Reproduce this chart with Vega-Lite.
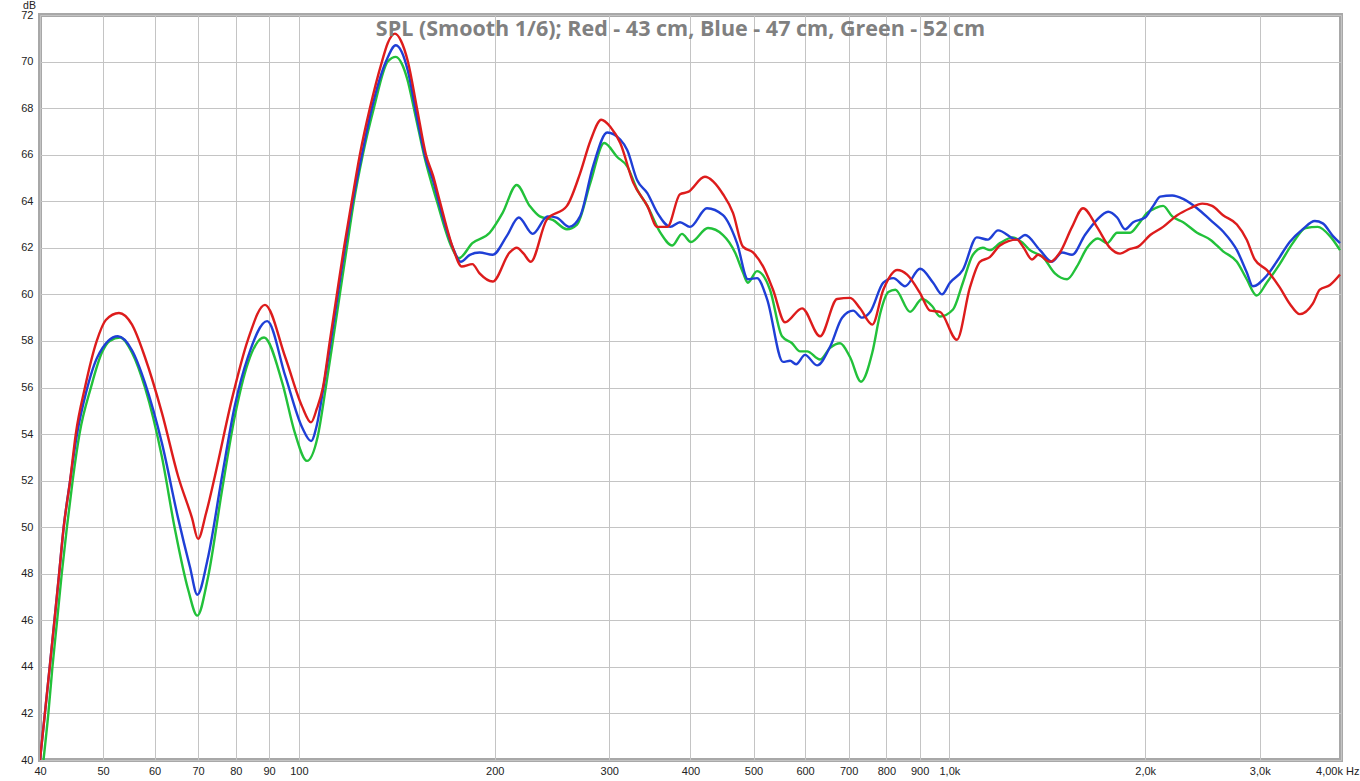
{
  "$schema": "https://vega.github.io/schema/vega-lite/v6.json",
  "width": 1301,
  "height": 745,
  "autosize": {"type": "none"},
  "padding": {"left": 40, "top": 15, "right": 19, "bottom": 21},
  "background": "white",
  "config": {
    "view": {"stroke": "#a8a8a8", "strokeWidth": 4},
    "axis": {"labelFont": "Liberation Sans", "labelFontSize": 11, "labelColor": "#222222", "gridColor": "#c4c4c4", "gridWidth": 1, "ticks": false, "domain": false, "labelFlush": false, "labelOverlap": false}
  },
  "title": {
    "text": "SPL (Smooth 1/6); Red - 43 cm, Blue - 47 cm, Green - 52 cm",
    "font": "Open Sans",
    "fontSize": 21.5,
    "fontWeight": "bold",
    "color": "#808080",
    "anchor": "middle",
    "baseline": "alphabetic",
    "offset": -20,
    "dx": -10,
    "dy": 37
  },
  "datasets": {
    "red": [
      {"f":40.0,"db":40},{"f":40.7,"db":42},{"f":41.4,"db":44},{"f":42.1,"db":46},{"f":42.8,"db":48},{"f":43.5,"db":50},{"f":44.5,"db":52},{"f":45.4,"db":54},{"f":46.9,"db":56},{"f":48.9,"db":58},{"f":50.5,"db":58.9},{"f":52.9,"db":59.2},{"f":55.4,"db":58.7},{"f":58.0,"db":57.3},{"f":61.6,"db":54.9},{"f":65.2,"db":52.2},{"f":68.5,"db":50.4},{"f":70.0,"db":49.5},{"f":72.0,"db":50.6},{"f":74.3,"db":52.2},{"f":78.9,"db":55.5},{"f":83.5,"db":58.05},{"f":88.7,"db":59.55},{"f":95.3,"db":57.3},{"f":101.1,"db":55.2},{"f":104.4,"db":54.5},{"f":106.6,"db":55.1},{"f":108.9,"db":56.0},{"f":111.6,"db":58.0},{"f":114.4,"db":60.0},{"f":117.3,"db":62.0},{"f":120.6,"db":64.0},{"f":124.1,"db":66.0},{"f":128.6,"db":68.0},{"f":134.2,"db":70.0},{"f":137.0,"db":70.8},{"f":140.5,"db":71.2},{"f":143.5,"db":70.9},{"f":147.1,"db":70.0},{"f":151.9,"db":68.0},{"f":156.8,"db":66.0},{"f":160.8,"db":65.1},{"f":164.7,"db":64.0},{"f":172.5,"db":62.0},{"f":178.0,"db":61.2},{"f":184.8,"db":61.3},{"f":189.6,"db":60.9},{"f":198.6,"db":60.55},{"f":210.9,"db":61.8},{"f":216.2,"db":62.0},{"f":221.6,"db":61.75},{"f":227.2,"db":61.4},{"f":240.4,"db":63.2},{"f":258.3,"db":63.8},{"f":270.6,"db":65.2},{"f":280.7,"db":66.6},{"f":291.7,"db":67.5},{"f":301.1,"db":67.2},{"f":311.9,"db":66.5},{"f":326.6,"db":64.8},{"f":343.3,"db":63.8},{"f":355.7,"db":62.9},{"f":368.5,"db":62.9},{"f":385.4,"db":64.3},{"f":396.5,"db":64.4},{"f":420.9,"db":65.05},{"f":448.8,"db":64.3},{"f":464.9,"db":63.5},{"f":481.5,"db":62.05},{"f":499,"db":61.8},{"f":517.1,"db":61.2},{"f":535.7,"db":60.2},{"f":559.0,"db":58.8},{"f":593.7,"db":59.4},{"f":632.7,"db":58.2},{"f":672.0,"db":59.8},{"f":703.7,"db":59.85},{"f":728.9,"db":59.4},{"f":761.3,"db":58.7},{"f":791.5,"db":60.2},{"f":831.7,"db":61.05},{"f":861.1,"db":60.85},{"f":901.6,"db":60.05},{"f":934.0,"db":59.3},{"f":967.2,"db":59.25},{"f":1027,"db":58.05},{"f":1075.6,"db":60.3},{"f":1114,"db":61.4},{"f":1154,"db":61.6},{"f":1196,"db":62.1},{"f":1270,"db":62.35},{"f":1298,"db":62.05},{"f":1340,"db":61.5},{"f":1369,"db":61.7},{"f":1428,"db":61.4},{"f":1479,"db":61.8},{"f":1544,"db":62.9},{"f":1605,"db":63.7},{"f":1686,"db":62.9},{"f":1766,"db":62.0},{"f":1830,"db":61.75},{"f":1896,"db":61.95},{"f":1951,"db":62.05},{"f":2036,"db":62.55},{"f":2131,"db":62.9},{"f":2240,"db":63.4},{"f":2346,"db":63.7},{"f":2448,"db":63.9},{"f":2535,"db":63.8},{"f":2635,"db":63.4},{"f":2767,"db":63.0},{"f":2865,"db":62.35},{"f":2947,"db":61.5},{"f":3075,"db":61.05},{"f":3220,"db":60.3},{"f":3336,"db":59.6},{"f":3457,"db":59.15},{"f":3620,"db":59.6},{"f":3711,"db":60.2},{"f":3847,"db":60.4},{"f":3986,"db":60.85}
    ],
    "blue": [
      {"f":40.0,"db":40},{"f":40.7,"db":42},{"f":41.4,"db":44},{"f":42.1,"db":46},{"f":42.8,"db":48},{"f":43.5,"db":50},{"f":44.5,"db":52},{"f":45.6,"db":54},{"f":47.1,"db":55.8},{"f":49.0,"db":57.3},{"f":52.7,"db":58.2},{"f":55.4,"db":57.6},{"f":58.0,"db":56.2},{"f":61.6,"db":53.6},{"f":65.2,"db":50.4},{"f":68.0,"db":48.3},{"f":69.8,"db":47.1},{"f":72.5,"db":48.7},{"f":76.2,"db":52.2},{"f":79.7,"db":55.2},{"f":83.5,"db":57.3},{"f":89.4,"db":58.85},{"f":95.3,"db":56.5},{"f":101.1,"db":54.3},{"f":104.4,"db":53.7},{"f":106.6,"db":54.4},{"f":109.1,"db":56.0},{"f":112.0,"db":58.0},{"f":114.8,"db":60.0},{"f":117.7,"db":62.0},{"f":121.0,"db":64.0},{"f":125.0,"db":66.0},{"f":129.5,"db":68.0},{"f":136.1,"db":70.0},{"f":141.0,"db":70.7},{"f":144.0,"db":70.4},{"f":147.1,"db":69.6},{"f":151.9,"db":67.6},{"f":156.8,"db":65.8},{"f":160.8,"db":64.9},{"f":164.7,"db":63.8},{"f":172.5,"db":62.0},{"f":177.4,"db":61.4},{"f":183.2,"db":61.7},{"f":189.6,"db":61.8},{"f":198.6,"db":61.7},{"f":208.7,"db":62.5},{"f":217.8,"db":63.3},{"f":228.8,"db":62.6},{"f":241.3,"db":63.35},{"f":249.0,"db":63.3},{"f":260.3,"db":62.9},{"f":270.6,"db":63.35},{"f":283.3,"db":65.5},{"f":297.9,"db":66.95},{"f":311.9,"db":66.65},{"f":319.7,"db":66.2},{"f":331.2,"db":64.9},{"f":343.3,"db":64.35},{"f":355.7,"db":63.5},{"f":372.4,"db":62.9},{"f":385.4,"db":63.1},{"f":399.3,"db":62.9},{"f":424.0,"db":63.7},{"f":448.8,"db":63.4},{"f":471.6,"db":62.2},{"f":490.1,"db":60.65},{"f":506.2,"db":60.7},{"f":524.5,"db":59.8},{"f":555.0,"db":57.1},{"f":569.0,"db":57.15},{"f":581.2,"db":57.0},{"f":600,"db":57.4},{"f":626.0,"db":56.95},{"f":655.6,"db":57.75},{"f":684.1,"db":59.0},{"f":711.3,"db":59.3},{"f":734.3,"db":59.0},{"f":755.9,"db":59.25},{"f":791.5,"db":60.5},{"f":820.1,"db":60.7},{"f":854.9,"db":60.35},{"f":901.6,"db":61.1},{"f":944.1,"db":60.5},{"f":974.1,"db":60.0},{"f":1002,"db":60.5},{"f":1049,"db":61.05},{"f":1102,"db":62.45},{"f":1146,"db":62.35},{"f":1188,"db":62.75},{"f":1270,"db":62.35},{"f":1307,"db":62.55},{"f":1378,"db":61.9},{"f":1438,"db":61.4},{"f":1490,"db":61.8},{"f":1544,"db":61.7},{"f":1616,"db":62.55},{"f":1686,"db":63.2},{"f":1754,"db":63.55},{"f":1811,"db":63.3},{"f":1863,"db":62.8},{"f":1917,"db":63.1},{"f":2000,"db":63.3},{"f":2058,"db":63.8},{"f":2109,"db":64.2},{"f":2201,"db":64.25},{"f":2288,"db":64.1},{"f":2403,"db":63.7},{"f":2518,"db":63.2},{"f":2635,"db":62.7},{"f":2767,"db":61.9},{"f":2865,"db":60.95},{"f":2927,"db":60.35},{"f":3075,"db":60.8},{"f":3185,"db":61.4},{"f":3336,"db":62.25},{"f":3494,"db":62.8},{"f":3646,"db":63.15},{"f":3750,"db":63.05},{"f":3888,"db":62.5},{"f":3986,"db":62.2}
    ],
    "green": [
      {"f":40.5,"db":40},{"f":41.2,"db":42},{"f":41.8,"db":44},{"f":42.5,"db":46},{"f":43.2,"db":48},{"f":44.0,"db":50},{"f":44.9,"db":52},{"f":46.0,"db":54},{"f":47.9,"db":56},{"f":49.8,"db":57.5},{"f":51.2,"db":58.0},{"f":53.1,"db":58.15},{"f":55.4,"db":57.5},{"f":58.0,"db":56.0},{"f":61.6,"db":53.0},{"f":64.5,"db":49.9},{"f":67.6,"db":47.3},{"f":69.8,"db":46.2},{"f":72.5,"db":47.85},{"f":76.2,"db":51.6},{"f":79.7,"db":54.75},{"f":83.5,"db":57.05},{"f":88.4,"db":58.15},{"f":94.3,"db":56.2},{"f":98.6,"db":54.05},{"f":102.9,"db":52.85},{"f":106.9,"db":53.9},{"f":110.0,"db":56.0},{"f":112.8,"db":58.0},{"f":115.6,"db":60.0},{"f":118.5,"db":62.0},{"f":121.5,"db":64.0},{"f":125.4,"db":66.0},{"f":130.4,"db":68.0},{"f":137.0,"db":70.0},{"f":141.0,"db":70.2},{"f":144.0,"db":69.9},{"f":146.6,"db":69.3},{"f":151.3,"db":67.6},{"f":155.7,"db":66.0},{"f":163.0,"db":64.0},{"f":171.9,"db":62.0},{"f":176.2,"db":61.55},{"f":184.8,"db":62.2},{"f":196.5,"db":62.65},{"f":205.7,"db":63.5},{"f":216.2,"db":64.7},{"f":226.4,"db":63.8},{"f":234.6,"db":63.35},{"f":245.6,"db":63.2},{"f":258.3,"db":62.8},{"f":267.7,"db":63.0},{"f":280.7,"db":64.8},{"f":294.7,"db":66.5},{"f":308.6,"db":65.9},{"f":319.7,"db":65.5},{"f":331.2,"db":64.5},{"f":343.3,"db":63.8},{"f":359.5,"db":62.65},{"f":375.1,"db":62.1},{"f":388.1,"db":62.6},{"f":400.7,"db":62.25},{"f":425.5,"db":62.85},{"f":448.8,"db":62.55},{"f":468.3,"db":61.8},{"f":481.5,"db":60.95},{"f":490.1,"db":60.5},{"f":506.2,"db":61.0},{"f":530.0,"db":60.2},{"f":553.0,"db":58.2},{"f":573.0,"db":57.9},{"f":589.5,"db":57.55},{"f":604.3,"db":57.55},{"f":632.7,"db":57.2},{"f":655.6,"db":57.7},{"f":679.2,"db":57.9},{"f":703.7,"db":57.3},{"f":731.5,"db":56.25},{"f":761.3,"db":57.5},{"f":783.2,"db":59.2},{"f":805.7,"db":60.1},{"f":826.0,"db":60.2},{"f":870.1,"db":59.25},{"f":908.0,"db":59.8},{"f":940.7,"db":59.5},{"f":967.2,"db":59.05},{"f":1013,"db":59.35},{"f":1049,"db":60.5},{"f":1087,"db":61.7},{"f":1126,"db":62.0},{"f":1154,"db":61.9},{"f":1196,"db":62.2},{"f":1252,"db":62.45},{"f":1298,"db":62.2},{"f":1330,"db":61.9},{"f":1393,"db":61.6},{"f":1453,"db":60.9},{"f":1517,"db":60.65},{"f":1571,"db":61.2},{"f":1628,"db":62.0},{"f":1692,"db":62.4},{"f":1748,"db":62.2},{"f":1811,"db":62.65},{"f":1896,"db":62.65},{"f":1951,"db":63.0},{"f":2014,"db":63.5},{"f":2072,"db":63.7},{"f":2131,"db":63.8},{"f":2201,"db":63.35},{"f":2288,"db":63.1},{"f":2403,"db":62.65},{"f":2518,"db":62.35},{"f":2635,"db":61.85},{"f":2767,"db":61.4},{"f":2865,"db":60.65},{"f":2968,"db":59.95},{"f":3075,"db":60.5},{"f":3220,"db":61.3},{"f":3372,"db":62.2},{"f":3530,"db":62.85},{"f":3684,"db":62.9},{"f":3847,"db":62.5},{"f":3986,"db":61.9}
    ]
  },
  "encoding": {
    "x": {
      "field": "f",
      "type": "quantitative",
      "scale": {"type": "log", "domain": [40, 4000], "nice": false},
      "axis": {
        "title": null,
        "grid": true,
        "values": [40, 50, 60, 70, 80, 90, 100, 200, 300, 400, 500, 600, 700, 800, 900, 1000, 2000, 3000, 4000],
        "labelExpr": "datum.value >= 4000 ? '4,00k Hz' : datum.value >= 1000 ? (datum.value / 1000) + ',0k' : datum.value + ''",
        "labelAlign": {"condition": {"test": "datum.value >= 4000", "value": "right"}, "value": "center"},
        "labelOffset": {"condition": {"test": "datum.value >= 4000", "value": 18}, "value": 0},
        "labelPadding": 5
      }
    },
    "y": {
      "field": "db",
      "type": "quantitative",
      "scale": {"domain": [40, 72], "nice": false, "zero": false},
      "axis": {
        "grid": true,
        "values": [40, 42, 44, 46, 48, 50, 52, 54, 56, 58, 60, 62, 64, 66, 68, 70, 72],
        "labelPadding": 7,
        "title": "dB",
        "titleAngle": 0,
        "titleX": -11,
        "titleY": -4.5,
        "titleAlign": "center",
        "titleBaseline": "bottom",
        "titleFont": "Liberation Sans",
        "titleFontSize": 10.5,
        "titleFontWeight": "normal",
        "titleColor": "#222222"
      }
    }
  },
  "layer": [
    {"data": {"name": "green"}, "mark": {"type": "line", "color": "#22c13a", "strokeWidth": 2.4, "interpolate": "monotone", "clip": true}},
    {"data": {"name": "blue"}, "mark": {"type": "line", "color": "#1f3fd6", "strokeWidth": 2.4, "interpolate": "monotone", "clip": true}},
    {"data": {"name": "red"}, "mark": {"type": "line", "color": "#dd1c1c", "strokeWidth": 2.4, "interpolate": "monotone", "clip": true}}
  ]
}
